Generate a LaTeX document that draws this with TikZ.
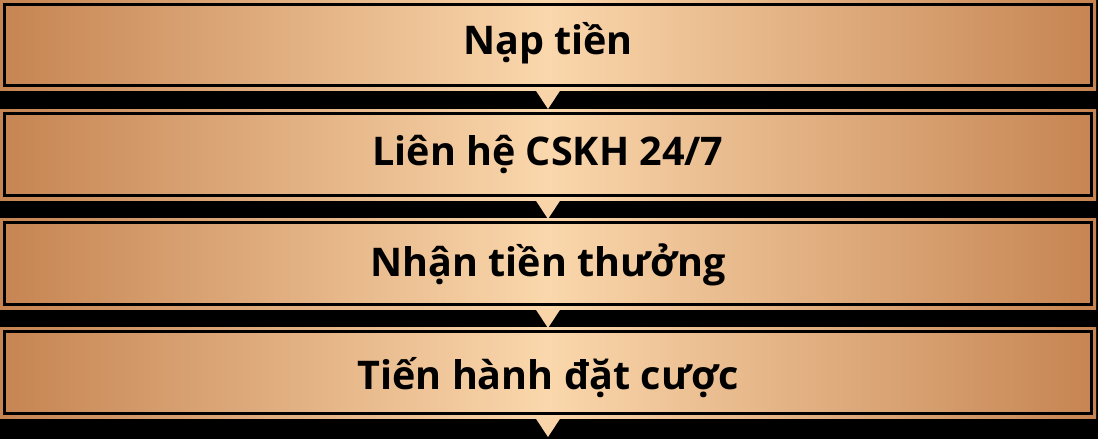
\documentclass[tikz,border=0pt]{standalone}
\usepackage{fontspec}
\setmainfont{Open Sans}
\usetikzlibrary{calc}
\definecolor{bronzeedge}{RGB}{198,132,82}
\definecolor{bronzemid}{RGB}{250,215,172}
\definecolor{trifill}{RGB}{248,212,168}
\begin{document}
\begin{tikzpicture}[x=1pt,y=-1pt,
  barbox/.style={left color=bronzeedge,right color=bronzeedge,middle color=bronzemid,draw=none},
  innerline/.style={draw=black,line width=3pt},
  label/.style={font=\fontsize{39.5}{46}\selectfont\bfseries,text=black,anchor=base,inner sep=0pt},
  arrowtri/.style={fill=trifill,draw=none}]
\fill[black] (0,0) rectangle (1098,439);
\useasboundingbox (0,0) rectangle (1098,439);
% bars
\foreach \i/\t/\b/\bl in {1/0/90/54, 2/109/200/165, 3/218/309/276, 4/327/418/389}{
  \path[barbox] (0,\t) rectangle (1096,\b);
  \draw[innerline] (4.5,\t+4.5) rectangle (1091.5,\b-4.5);
  \coordinate (bar\i) at (548,\bl);
  \coordinate (tip\i) at (548,\b+19);
  \path[arrowtri] (535.5,\b) -- (560.5,\b) -- (tip\i) -- cycle;
}
\node[label] (t1) at (bar1) {Nạp tiền};
\node[label] (t2) at (bar2) {Liên hệ CSKH 24/7};
\node[label] (t3) at (bar3) {Nhận tiền thưởng};
\node[label] (t4) at (bar4) {Tiến hành đặt cược};
\end{tikzpicture}
\end{document}
